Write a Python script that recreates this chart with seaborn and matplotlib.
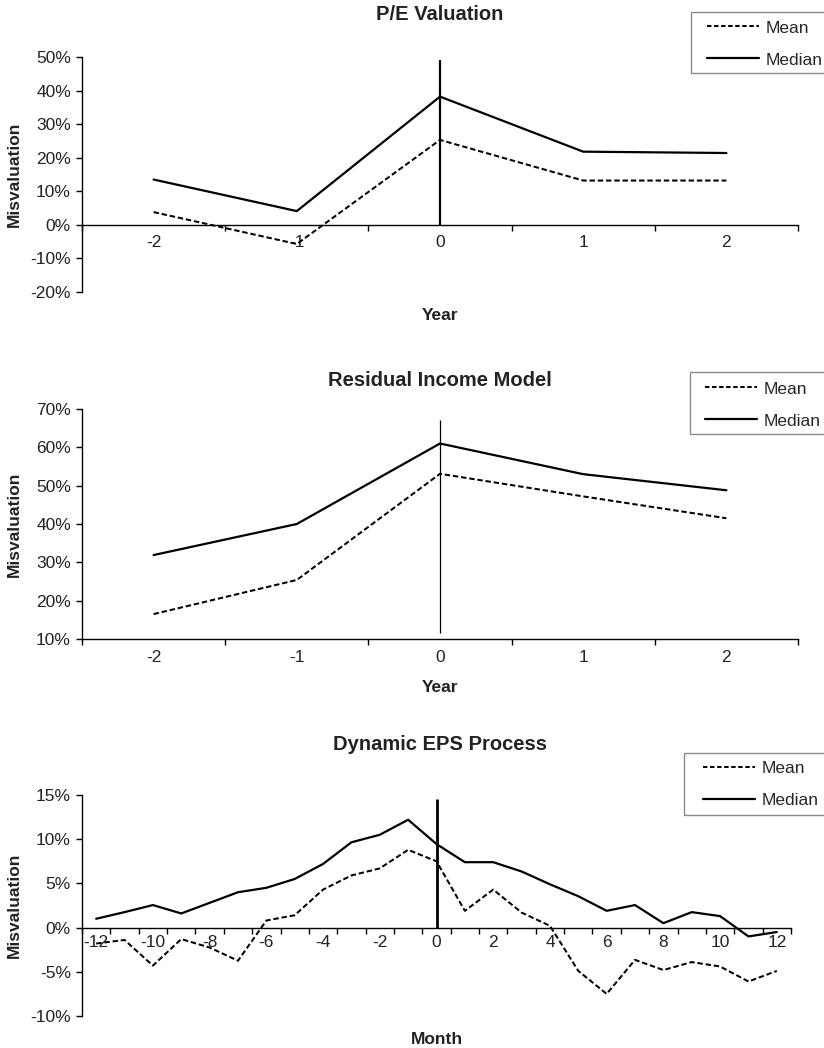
import numpy as np
import pandas as pd
import matplotlib
matplotlib.use("Agg")
import matplotlib.pyplot as plt
from matplotlib.ticker import FixedLocator, FuncFormatter
from matplotlib.patches import Rectangle
import seaborn as sns

# ---------------- data ----------------
years = [-2, -1, 0, 1, 2]
pe_mean = [3.8, -5.7, 25.3, 13.2, 13.2]
pe_median = [13.5, 4.1, 38.2, 21.8, 21.4]

ri_mean = [16.5, 25.4, 53.1, 47.2, 41.5]
ri_median = [31.9, 40.0, 61.0, 53.0, 48.8]

months = list(range(-12, 13))
eps_mean = [-1.8, -1.4, -4.3, -1.3, -2.25, -3.75, 0.8, 1.4, 4.3, 5.9, 6.7, 8.8,
            7.5, 1.9, 4.3, 1.7, 0.2, -4.9, -7.5, -3.65, -4.8, -3.9, -4.4, -6.1, -4.9]
eps_median = [1.0, 1.75, 2.55, 1.6, 2.8, 4.0, 4.5, 5.5, 7.2, 9.65, 10.5, 12.2,
              9.45, 7.4, 7.4, 6.35, 4.9, 3.55, 1.9, 2.55, 0.5, 1.75, 1.3, -1.0, -0.5]

titles = ["P/E Valuation", "Residual Income Model", "Dynamic EPS Process"]
xlabels = ["Year", "Year", "Month"]
ylabel = "Misvaluation"
legend_labels = ["Mean", "Median"]

pe_yticks = [-20, -10, 0, 10, 20, 30, 40, 50]
ri_yticks = [10, 20, 30, 40, 50, 60, 70]
eps_yticks = [-10, -5, 0, 5, 10, 15]
eps_xticklabels = list(range(-12, 13, 2))

pe_vline = [0, 49]
ri_vline = [11.6, 67.2]
eps_vline = [0, 14.6]

# ---------------- style ----------------
sns.set_style("white")
plt.rcParams["font.family"] = ["Liberation Sans", "DejaVu Sans"]
plt.rcParams["axes.linewidth"] = 1.0

W, H = 824, 1048
fig = plt.figure(figsize=(W / 100, H / 100), dpi=100)

def fx(px):
    return px / W

def fy(py):
    return 1 - py / H

FS = 12.5
TXT = "#222222"

panels = [
    dict(x=years, mean=pe_mean, median=pe_median, yticks=pe_yticks, ylim=(-20, 50),
         xlim=(-2.5, 2.5), box=(82, 798, 57, 292), vline=pe_vline, vlw=1.6,
         xaxis_at=0, title_y=15, xlabel_y=316, xlab_pad=7, xticks=years,
         legbox=(690.7, 11.7, 72.7), leg_hx=707, leg_row1=26.7),
    dict(x=years, mean=ri_mean, median=ri_median, yticks=ri_yticks, ylim=(10, 70),
         xlim=(-2.5, 2.5), box=(82, 798, 409, 639), vline=ri_vline, vlw=0.9,
         xaxis_at=10, title_y=380, xlabel_y=687, xlab_pad=8, xticks=years,
         legbox=(689.5, 372.3, 434.3), leg_hx=705, leg_row1=387.7),
    dict(x=months, mean=eps_mean, median=eps_median, yticks=eps_yticks, ylim=(-10, 15),
         xlim=(-12.5, 12.5), box=(82, 791, 795, 1016), vline=eps_vline, vlw=2.0,
         xaxis_at=0, title_y=745, xlabel_y=1039, xlab_pad=5, xticks=eps_xticklabels,
         legbox=(684, 753, 815), leg_hx=702.5, leg_row1=767.3),
]

for i, p in enumerate(panels):
    l, r, t, b = p["box"]
    ax = fig.add_axes([fx(l), fy(b), fx(r) - fx(l), fy(t) - fy(b)])
    df = pd.DataFrame({"x": p["x"], "mean": p["mean"], "median": p["median"]})

    sns.lineplot(data=df, x="x", y="mean", ax=ax, color="black", lw=1.45,
                 label=legend_labels[0])
    sns.lineplot(data=df, x="x", y="median", ax=ax, color="black", lw=1.6,
                 label=legend_labels[1])
    ax.lines[0].set_dashes((2.7, 1.4))
    ax.vlines(0, p["vline"][0], p["vline"][1], color="black", lw=p["vlw"])

    ax.set_xlim(*p["xlim"])
    ax.set_ylim(*p["ylim"])
    for s in ["top", "right"]:
        ax.spines[s].set_visible(False)
    ax.spines["bottom"].set_position(("data", p["xaxis_at"]))
    ax.spines["left"].set_color("black")
    ax.spines["bottom"].set_color("black")

    ax.yaxis.set_major_locator(FixedLocator(p["yticks"]))
    ax.yaxis.set_major_formatter(FuncFormatter(lambda v, pos: f"{v:.0f}%"))
    ax.tick_params(axis="y", which="major", direction="out", length=4, width=1,
                   color="black", labelsize=FS, labelcolor=TXT, pad=4, left=True)

    ax.xaxis.set_major_locator(FixedLocator(p["xticks"]))
    ax.xaxis.set_major_formatter(FuncFormatter(lambda v, pos: f"{v:.0f}"))
    lo, hi = p["xlim"]
    bounds = np.arange(lo, hi + 0.01, 1.0)
    ax.xaxis.set_minor_locator(FixedLocator(bounds))
    ax.tick_params(axis="x", which="major", length=0, labelsize=FS,
                   labelcolor=TXT, pad=p["xlab_pad"], bottom=True)
    ax.tick_params(axis="x", which="minor", direction="out", length=4, width=1,
                   color="black", bottom=True)

    ax.set_xlabel("")
    ax.set_ylabel("")
    ax.grid(False)

    # legend: frameless entries + box that runs off the right edge
    handles, labels = ax.get_legend_handles_labels()
    leg = ax.legend(handles, labels, loc="upper left",
                    bbox_to_anchor=(fx(p["leg_hx"]), fy(p["leg_row1"] - 6.3)),
                    bbox_transform=fig.transFigure, fontsize=FS, frameon=False,
                    handlelength=3.0, handletextpad=0.4, borderpad=0.0,
                    labelspacing=0.97, borderaxespad=0)
    leg.get_lines()[0].set_dashes((2.2, 1.3))
    bx, btop, bbot = p["legbox"]
    fig.patches.append(Rectangle((fx(bx), fy(bbot)), fx(W + 20) - fx(bx),
                                 fy(btop) - fy(bbot), transform=fig.transFigure,
                                 fill=False, edgecolor="#8a8a8a", lw=1.0,
                                 figure=fig))

    cx = (l + r) / 2
    fig.text(fx(440), fy(p["title_y"]), titles[i], ha="center", va="center",
             fontsize=14.5, fontweight="bold", color=TXT)
    fig.text(fx(cx), fy(p["xlabel_y"]), xlabels[i], ha="center", va="center",
             fontsize=FS, fontweight="bold", color=TXT)
    fig.text(fx(14.5), fy((t + b) / 2), ylabel, ha="center", va="center",
             rotation=90, fontsize=FS, fontweight="bold", color=TXT)

fig.savefig("out.png", dpi=100)
